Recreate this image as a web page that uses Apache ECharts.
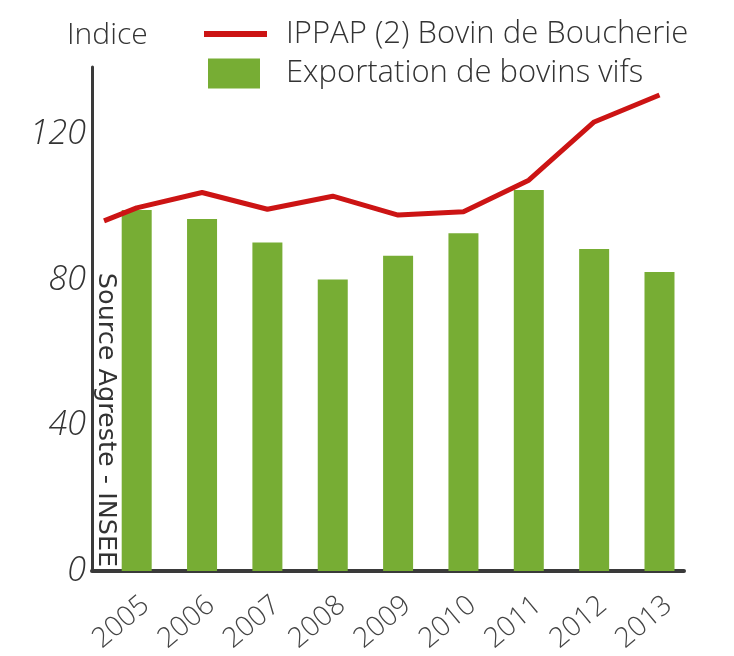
<!DOCTYPE html>
<html>
<head>
<meta charset="utf-8">
<script src="https://cdn.jsdelivr.net/npm/echarts@6/dist/echarts.min.js"></script>
<style>
html,body{margin:0;padding:0;background:#fff;}
#chart{width:734px;height:656px;}
</style>
</head>
<body>
<div id="chart"></div>
<script>
// Data
var years = [2005, 2006, 2007, 2008, 2009, 2010, 2011, 2012, 2013];
var exportValues = [99.2, 96.7, 90.3, 80.1, 86.6, 92.8, 104.7, 88.5, 82.2];
var ippapX = [2004.5, 2005, 2006, 2007, 2008, 2009, 2010, 2011, 2012, 2013];
var ippapValues = [96.2, 99.8, 104.0, 99.4, 103.0, 97.8, 98.7, 107.4, 123.4, 130.8];
var yTicks = [0, 40, 80, 120];
var seriesNames = ['IPPAP (2) Bovin de Boucherie', 'Exportation de bovins vifs'];

var HAND = "'Open Sans', 'Lato', sans-serif";
var chart = echarts.init(document.getElementById('chart'), null, {renderer: 'canvas'});

var barData = years.map(function (y, i) { return [y, exportValues[i]]; });
var lineData = ippapX.map(function (x, i) { return [x, ippapValues[i]]; });

chart.setOption({
  animation: false,
  backgroundColor: '#ffffff',
  title: {
    text: 'Indice',
    left: 62,
    top: 15,
    textStyle: {fontFamily: HAND, fontWeight: 300, fontSize: 30, color: '#333333'}
  },
  legend: [
    {
      data: [seriesNames[0]],
      left: 199,
      top: 11,
      icon: 'rect',
      itemWidth: 63,
      itemHeight: 6,
      textStyle: {fontFamily: HAND, fontWeight: 300, fontSize: 31, color: '#333333', padding: [0, 0, 0, 14], lineHeight: 36}
    },
    {
      data: [seriesNames[1]],
      left: 203,
      top: 53,
      icon: 'rect',
      itemWidth: 52,
      itemHeight: 30,
      textStyle: {fontFamily: HAND, fontWeight: 300, fontSize: 31, color: '#333333', padding: [0, 0, 0, 21], lineHeight: 30}
    }
  ],
  grid: {left: 92, right: 50, top: 67, bottom: 85, containLabel: false},
  xAxis: {
    type: 'value',
    min: 2004.316,
    max: 2013.375,
    splitLine: {show: false},
    axisTick: {show: false},
    axisLine: {show: true, lineStyle: {color: '#3a3a3a', width: 4}},
    axisLabel: {
      customValues: years,
      rotate: 40,
      margin: 20,
      verticalAlign: 'top',
      fontFamily: HAND,
      fontWeight: 300,
      fontSize: 28,
      color: '#444444',
      formatter: function (v) { return String(Math.round(v)); }
    }
  },
  yAxis: {
    type: 'value',
    min: 0,
    max: 138.5,
    interval: 40,
    splitLine: {show: false},
    axisTick: {show: false},
    axisLine: {show: true, lineStyle: {color: '#3a3a3a', width: 3}},
    axisLabel: {
      customValues: yTicks,
      margin: 6,
      fontFamily: HAND,
      fontWeight: 300,
      fontStyle: 'italic',
      fontSize: 34,
      color: '#333333'
    }
  },
  graphic: [
    {
      type: 'text',
      x: 106,
      y: 420,
      rotation: -Math.PI / 2,
      z: 100,
      style: {
        text: 'Source Agreste - INSEE',
        x: 0,
        y: 0,
        textAlign: 'center',
        textVerticalAlign: 'middle',
        font: '25.5px "DejaVu Sans", sans-serif',
        fill: '#333333'
      }
    }
  ],
  series: [
    {
      name: seriesNames[1],
      type: 'bar',
      data: barData,
      barWidth: 30,
      itemStyle: {color: '#77ad34'},
      z: 2
    },
    {
      name: seriesNames[0],
      type: 'line',
      data: lineData,
      symbol: 'none',
      lineStyle: {color: '#cc1414', width: 5},
      itemStyle: {color: '#cc1414'},
      z: 3
    }
  ]
});
</script>
</body>
</html>
